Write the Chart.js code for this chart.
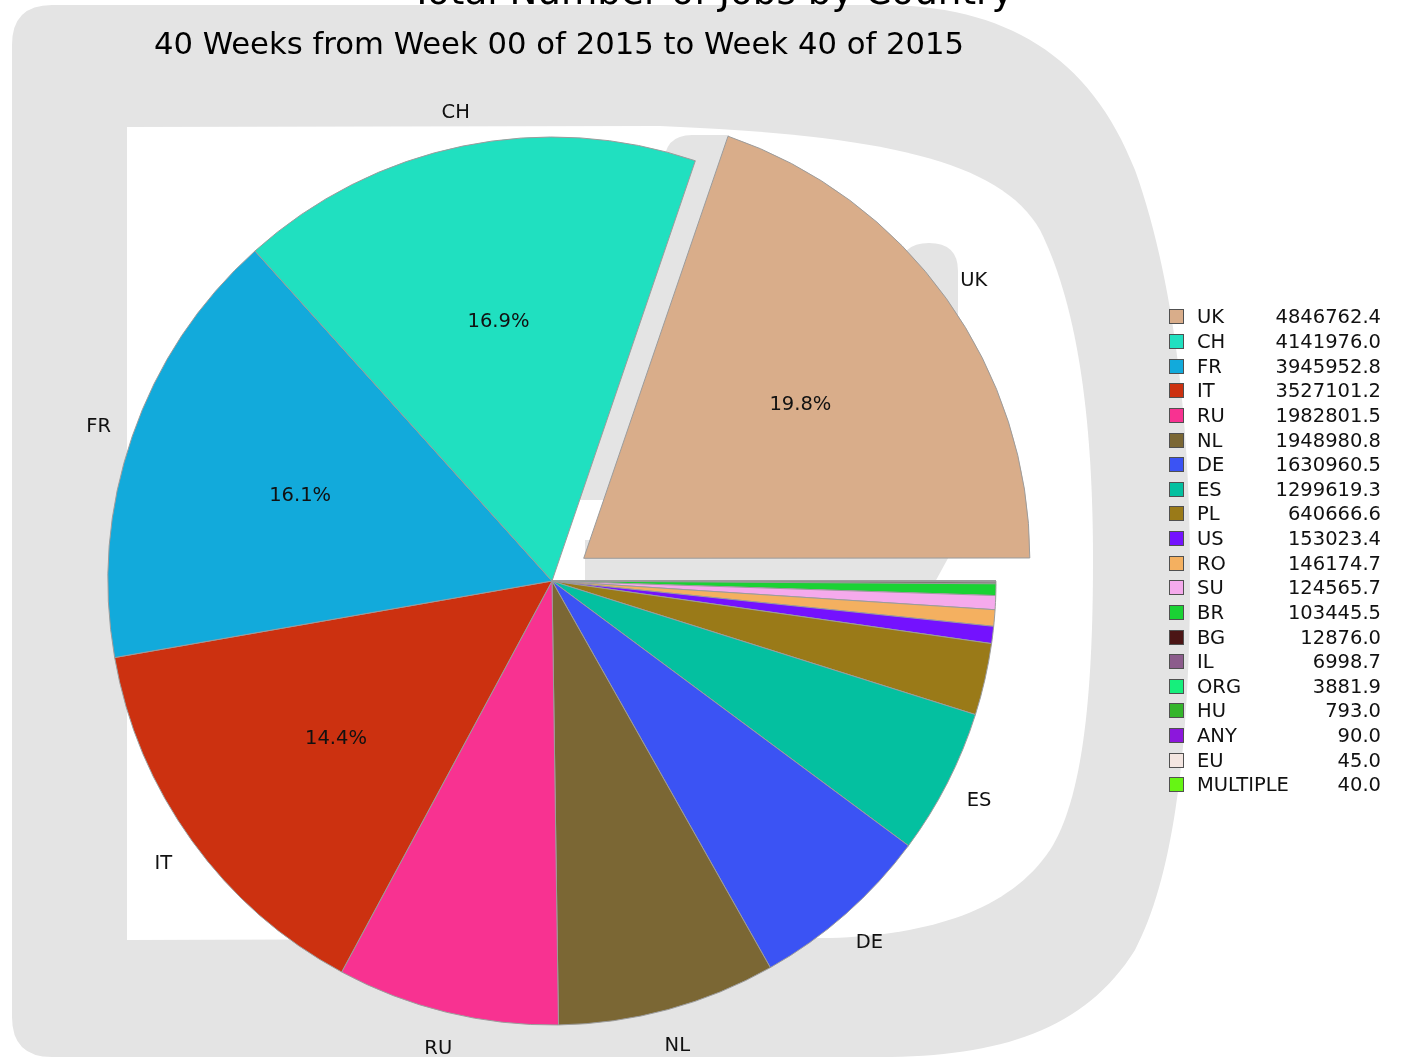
<!DOCTYPE html>
<html>
<head>
<meta charset="utf-8">
<script src="https://cdn.jsdelivr.net/npm/chart.js@4/dist/chart.umd.min.js"></script>
<style>
html,body{margin:0;padding:0;background:#fff;overflow:hidden;}
#wrap{position:relative;width:1401px;height:1059px;overflow:hidden;}
#chart{position:absolute;left:0;top:0;}
.txt{position:absolute;font-family:'DejaVu Sans',sans-serif;color:#000;white-space:nowrap;}
#title{font-size:37.3px;line-height:37px;left:0;width:1424px;text-align:center;top:-27px;}
#subtitle{font-size:30.7px;line-height:30.5px;left:0;width:1118px;text-align:center;top:29px;}
.row{position:absolute;left:1165px;width:216px;height:20px;font-family:'DejaVu Sans',sans-serif;font-size:19.5px;line-height:20px;color:#111;}
.row .box{position:absolute;left:4px;top:2px;width:15px;height:15px;box-sizing:border-box;border:1.5px solid #505050;}
.row .name{position:absolute;left:32px;top:0;}
.row .val{position:absolute;right:0;top:0;}
</style>
</head>
<body>
<div id="wrap">
  <canvas id="chart" width="1401" height="1059"></canvas>
  <div id="title" class="txt"></div>
  <div id="subtitle" class="txt"></div>
  <div id="legend"></div>
</div>
<script>
// ---------------- data ----------------
const titleText = 'Total Number of Jobs by Country';
const subtitleText = '40 Weeks from Week 00 of 2015 to Week 40 of 2015';
const categories = ['UK','CH','FR','IT','RU','NL','DE','ES','PL','US','RO','SU','BR','BG','IL','ORG','HU','ANY','EU','MULTIPLE'];
const jobCounts = [4846762.4, 4141976.0, 3945952.8, 3527101.2, 1982801.5, 1948980.8, 1630960.5, 1299619.3, 640666.6, 153023.4, 146174.7, 124565.7, 103445.5, 12876.0, 6998.7, 3881.9, 793.0, 90.0, 45.0, 40.0];
const sliceColors = ['#d9ad8a','#20e0c0','#12aadb','#cc3110','#f83291','#7b6734','#3b53f4','#04c0a0','#9a7a18','#7412fe','#f4b060','#f5aaec','#1ad234','#4b1515','#8c5c8c','#16ef7c','#34b52b','#8c17dc','#f4e6e1','#66f514'];
const explodedCategory = 'UK';

// ---------------- text ----------------
document.getElementById('title').textContent = titleText;
document.getElementById('subtitle').textContent = subtitleText;
const legendEl = document.getElementById('legend');
categories.forEach((c, i) => {
  const row = document.createElement('div');
  row.className = 'row';
  row.style.top = (307.4 + i * 24.63) + 'px';
  const box = document.createElement('div');
  box.className = 'box';
  box.style.background = sliceColors[i];
  const nm = document.createElement('span');
  nm.className = 'name';
  nm.textContent = c;
  const vl = document.createElement('span');
  vl.className = 'val';
  vl.textContent = jobCounts[i].toFixed(1);
  row.appendChild(box); row.appendChild(nm); row.appendChild(vl);
  legendEl.appendChild(row);
});

// ---------------- chart ----------------
// matplotlib draws counter-clockwise from 3 o'clock; Chart.js clockwise -> reverse order
const revLabels = categories.slice().reverse();
const revValues = jobCounts.slice().reverse();
const revColors = sliceColors.slice().reverse();
const EXPLODE_PX = 39;
const revOffsets = revLabels.map(l => l === explodedCategory ? EXPLODE_PX * 4 : 0);
const total = jobCounts.reduce((a, b) => a + b, 0);

const GREY = '#e4e4e4';
const watermark = {
  id: 'watermark',
  beforeDatasetsDraw(chart) {
    const ctx = chart.ctx;
    ctx.save();
    ctx.fillStyle = GREY;
    ctx.beginPath();
    ctx.moveTo(52, 5);
    ctx.lineTo(880, 5);
    ctx.bezierCurveTo(1005, 5, 1090, 55, 1135, 170);
    ctx.bezierCurveTo(1178, 290, 1192, 450, 1190, 600);
    ctx.bezierCurveTo(1188, 760, 1172, 880, 1135, 950);
    ctx.bezierCurveTo(1085, 1030, 1000, 1057, 880, 1057);
    ctx.lineTo(52, 1057);
    ctx.quadraticCurveTo(12, 1057, 12, 1017);
    ctx.lineTo(12, 45);
    ctx.quadraticCurveTo(12, 5, 52, 5);
    ctx.closePath();
    ctx.fill();
    ctx.fillStyle = '#ffffff';
    ctx.beginPath();
    ctx.moveTo(127, 127);
    ctx.lineTo(660, 126);
    ctx.bezierCurveTo(880, 135, 1000, 160, 1040, 230);
    ctx.bezierCurveTo(1080, 310, 1093, 430, 1093, 560);
    ctx.bezierCurveTo(1093, 700, 1082, 800, 1050, 850);
    ctx.bezierCurveTo(1010, 910, 930, 935, 830, 938);
    ctx.lineTo(127, 940);
    ctx.closePath();
    ctx.fill();
    // inner loop fragments of the logo
    ctx.fillStyle = GREY;
    ctx.beginPath();
    ctx.moveTo(664, 165);
    ctx.quadraticCurveTo(664, 135, 692, 135);
    ctx.lineTo(729, 135);
    ctx.lineTo(604, 500);
    ctx.lineTo(575, 500);
    ctx.closePath();
    ctx.fill();
    ctx.beginPath();
    ctx.moveTo(900, 271);
    ctx.quadraticCurveTo(900, 243, 929, 243);
    ctx.quadraticCurveTo(958, 243, 958, 271);
    ctx.lineTo(958, 540);
    ctx.lineTo(935, 582);
    ctx.lineTo(585, 582);
    ctx.lineTo(585, 540);
    ctx.lineTo(900, 540);
    ctx.closePath();
    ctx.fill();
    ctx.restore();
  }
};

const sliceLabels = {
  id: 'sliceLabels',
  afterDatasetsDraw(chart) {
    const ctx = chart.ctx;
    const meta = chart.getDatasetMeta(0);
    ctx.save();
    ctx.fillStyle = '#111';
    ctx.textAlign = 'center';
    ctx.textBaseline = 'alphabetic';
    const fs = 19.5;
    ctx.font = fs + "px 'DejaVu Sans'";
    meta.data.forEach((arc, i) => {
      const pct = revValues[i] / total * 100;
      const mid = (arc.startAngle + arc.endAngle) / 2;
      const off = revOffsets[i] / 4;
      const cx = arc.x + Math.cos(mid) * off;
      const cy = arc.y + Math.sin(mid) * off;
      const r = arc.outerRadius;
      const capShift = fs * 0.3645;
      if (pct >= 5) {
        ctx.fillText(revLabels[i], cx + Math.cos(mid) * r * 1.08, cy + Math.sin(mid) * r * 1.08 + capShift);
      }
      if (pct >= 10) {
        ctx.fillText(pct.toFixed(1) + '%', cx + Math.cos(mid) * r * 0.6, cy + Math.sin(mid) * r * 0.6 + capShift);
      }
    });
    ctx.restore();
  }
};

new Chart(document.getElementById('chart'), {
  type: 'pie',
  data: {
    labels: revLabels,
    datasets: [{
      data: revValues,
      backgroundColor: revColors,
      borderColor: '#9c9c9c',
      borderWidth: 1,
      offset: revOffsets,
      hoverOffset: 0,
      clip: false
    }]
  },
  options: {
    responsive: false,
    animation: false,
    events: [],
    rotation: 90,
    radius: 444,
    layout: { padding: { left: 100, right: 397, top: 130, bottom: 27 } },
    plugins: {
      legend: { display: false },
      title: { display: false },
      tooltip: { enabled: false }
    }
  },
  plugins: [watermark, sliceLabels]
});
</script>
</body>
</html>
